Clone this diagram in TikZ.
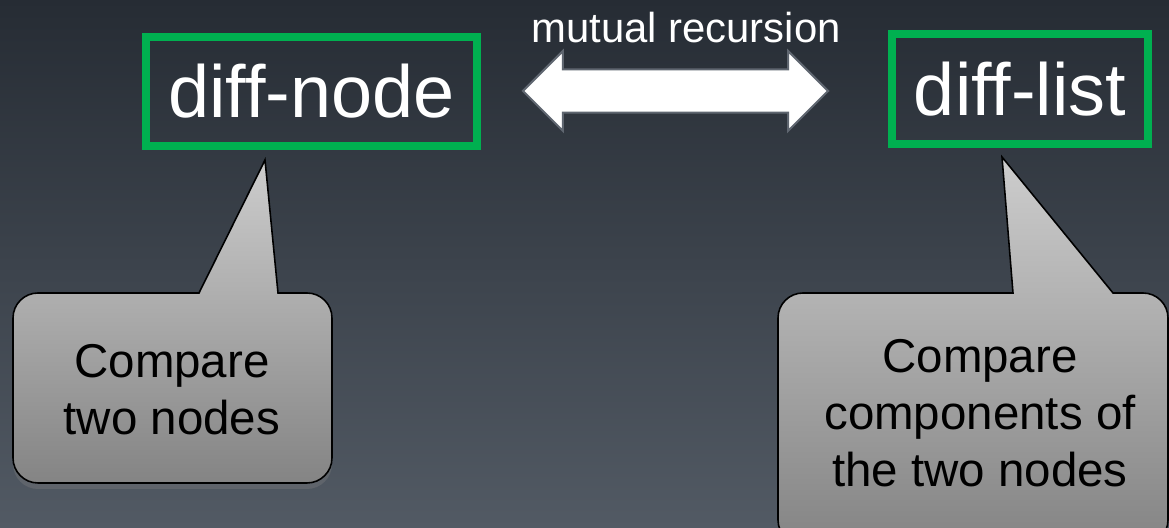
\documentclass[tikz,border=0pt]{standalone}
\usepackage{fontspec}
\setmainfont{Liberation Sans}
\usetikzlibrary{shapes.arrows,shadows}
\definecolor{bgtop}{RGB}{38,44,52}
\definecolor{bgbot}{RGB}{82,90,100}
\definecolor{boxgreen}{RGB}{0,176,80}
\definecolor{arrowgray}{RGB}{95,102,112}
\definecolor{calltop}{RGB}{205,205,205}
\definecolor{callbot}{RGB}{132,132,132}

\begin{document}
\begin{tikzpicture}[x=0.01cm, y=-0.01cm, fnbox/.style = {draw=boxgreen, line width=0.08cm, inner sep=0pt, text=white, font=\fontsize{21}{25}\selectfont}, recarrow/.style = {double arrow, draw=arrowgray, line width=0.02cm, fill=white, inner sep=0pt, text height=0.41cm, text depth=0pt, double arrow head extend=0.185cm, minimum width=0.78cm, minimum height=3.05cm}, callout/.style = {draw=black, line width=0.45pt, top color=calltop, bottom color=callbot, drop shadow={opacity=0.35, shadow xshift=0pt, shadow yshift=-0.06cm}}, calltext/.style = {align=center, font=\fontsize{13.5}{16.2}\selectfont}]

    % background
    \useasboundingbox (0,0) rectangle (1169,528);
    \clip (0,0) rectangle (1169,528);
    \shade[top color=bgtop, bottom color=bgbot] (0,0) rectangle (1169,528);

    % functions
    \node[fnbox, minimum width=3.31cm, minimum height=1.09cm] (dnode) at (311.5,91.5) {diff-node};
    \node[fnbox, minimum width=2.56cm, minimum height=1.10cm] (dlist) at (1020,89) {diff-list};

    % recursion arrow
    \node[recarrow] (rec) at (675.5,91) {};
    \node[anchor=base, text=white, font=\fontsize{11.9}{14}\selectfont] (reclabel) at (686,43) {mutual recursion};

    % callouts
    \path[callout] (265,160) -- (278,293) -- (307,293) arc[start angle=270, end angle=360, radius=25] -- (332,458) arc[start angle=0, end angle=90, radius=25] -- (38,483) arc[start angle=90, end angle=180, radius=25] -- (13,318) arc[start angle=180, end angle=270, radius=25] -- (199,293) -- cycle;
    \node[calltext] (cnode) at (172,390) {Compare\\two nodes};

    \path[callout] (1002,157) -- (1113,293) -- (1143,293) arc[start angle=270, end angle=360, radius=25] -- (1168,520) arc[start angle=0, end angle=90, radius=25] -- (803,545) arc[start angle=90, end angle=180, radius=25] -- (778,318) arc[start angle=180, end angle=270, radius=25] -- (1013,293) -- cycle;
    \node[calltext] (clist) at (980,413) {Compare\\components of\\the two nodes};

\end{tikzpicture}
\end{document}
